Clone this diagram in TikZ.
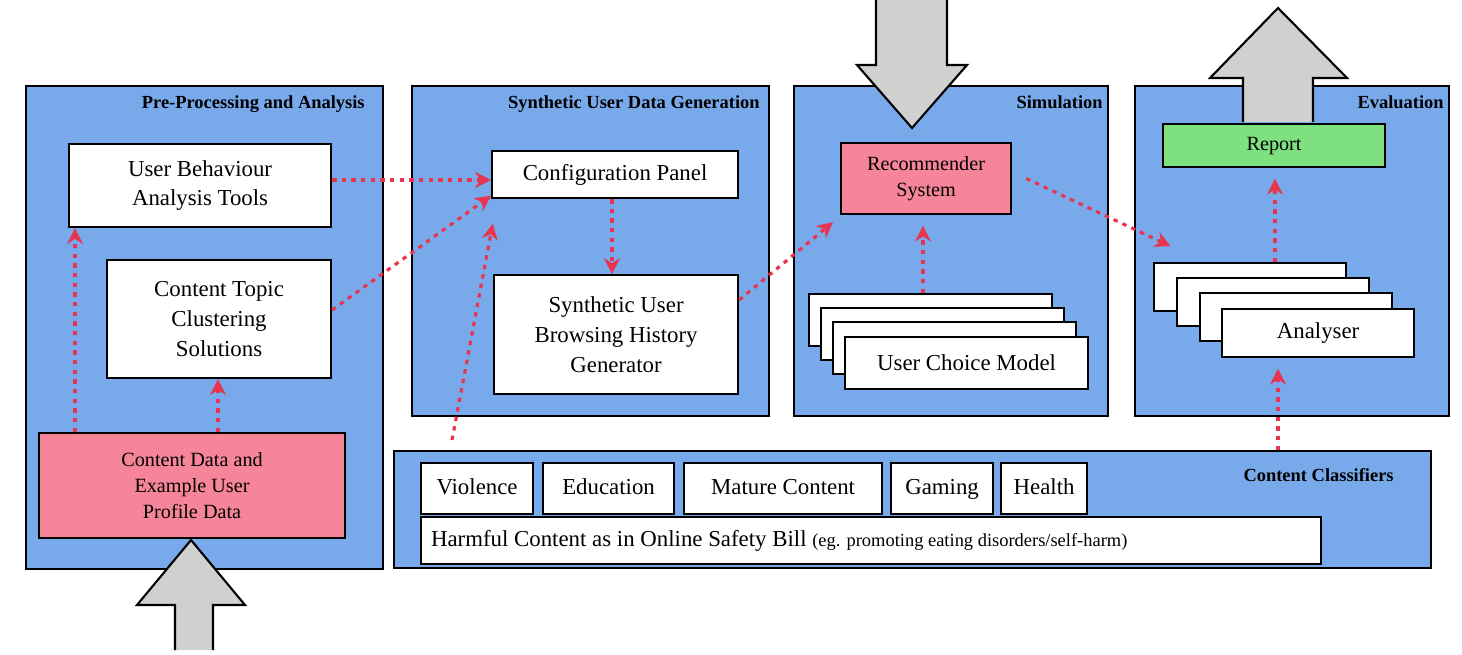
\documentclass[tikz,border=0pt]{standalone}
\usepackage{fontspec}
\setmainfont{Liberation Serif}
\usetikzlibrary{arrows.meta,shapes.arrows}
\definecolor{panelblue}{HTML}{78A9EA}
\definecolor{boxpink}{HTML}{F7859A}
\definecolor{boxgreen}{HTML}{7EE07E}
\definecolor{flowred}{HTML}{E8344E}
\definecolor{bigarrow}{HTML}{D0D0D0}
\tikzset{
  panel/.style={draw, line width=1.2pt, fill=panelblue, anchor=north west, inner sep=0pt},
  ptitle/.style={anchor=north east, font=\fontsize{10.5}{12}\selectfont\bfseries, inner sep=0pt},
  box/.style={draw, line width=1.2pt, fill=white, anchor=north west, inner sep=0pt, align=center, font=\fontsize{13}{17}\selectfont},
  flow/.style={flowred, line width=1.8pt, dash pattern=on 2.5pt off 3pt, -{Stealth[length=9pt,width=9pt]}},
  big/.style={draw, line width=1.2pt, fill=bigarrow}
}
\begin{document}
\begin{tikzpicture}[x=0.02cm, y=-0.02cm]
\useasboundingbox (0,0) rectangle (1462,655);
% panels
\node[panel, minimum width=357*0.02cm, minimum height=483*0.02cm] (pre) at (25,85) {};
\node[panel, minimum width=357*0.02cm, minimum height=330*0.02cm] (gen) at (411,85) {};
\node[panel, minimum width=314*0.02cm, minimum height=330*0.02cm] (sim) at (793,85) {};
\node[panel, minimum width=314*0.02cm, minimum height=330*0.02cm] (eval) at (1134,85) {};
\node[panel, minimum width=1037*0.02cm, minimum height=117*0.02cm] (cls) at (393,450) {};
\node[ptitle] at (365,95) {Pre-Processing and Analysis};
\node[ptitle] at (760,95) {Synthetic User Data Generation};
\node[ptitle] at (1103,95) {Simulation};
\node[ptitle] at (1444,95) {Evaluation};
\node[ptitle] at (1394,468) {Content Classifiers};
% boxes
\node[box, minimum width=262*0.02cm, minimum height=83*0.02cm] (ubat) at (68,143) {User Behaviour\\Analysis Tools};
\node[box, minimum width=224*0.02cm, minimum height=118*0.02cm] (ctcs) at (106,259) {Content Topic\\Clustering\\Solutions};
\node[box, fill=boxpink, minimum width=306*0.02cm, minimum height=105*0.02cm, font=\fontsize{11.5}{15}\selectfont] (data) at (38,432) {Content Data and\\Example User\\Profile Data};
\node[box, minimum width=246*0.02cm, minimum height=47*0.02cm] (conf) at (491,150) {Configuration Panel};
\node[box, minimum width=244*0.02cm, minimum height=119*0.02cm] (hist) at (493,274) {Synthetic User\\Browsing History\\Generator};
\node[box, fill=boxpink, minimum width=170*0.02cm, minimum height=71*0.02cm, font=\fontsize{11.5}{15}\selectfont] (rec) at (840,142) {Recommender\\System};
\foreach \i/\x/\y in {1/808/293, 2/820/307, 3/832/321}
  \node[box, minimum width=243*0.02cm, minimum height=52*0.02cm] (ucm\i) at (\x,\y) {};
\node[box, minimum width=243*0.02cm, minimum height=52*0.02cm] (ucm) at (844,336) {User Choice Model};
\node[box, fill=boxgreen, minimum width=222*0.02cm, minimum height=43*0.02cm, font=\fontsize{11.5}{15}\selectfont] (rep) at (1162,123) {Report};
\foreach \i/\x/\y in {1/1153/262, 2/1176/277, 3/1199/292}
  \node[box, minimum width=192*0.02cm, minimum height=48*0.02cm] (an\i) at (\x,\y) {};
\node[box, minimum width=192*0.02cm, minimum height=48*0.02cm] (an) at (1221,308) {Analyser};
% classifiers
\foreach \n/\x/\w/\t in {vio/420/112/Violence, edu/542/131/Education, mat/683/198/Mature Content, gam/890/102/Gaming, hea/1000/86/Health}
  \node[box, minimum width=\w*0.02cm, minimum height=51*0.02cm] (\n) at (\x,462) {\strut\t};
\node[box, minimum width=900*0.02cm, minimum height=47*0.02cm, align=flush left, text width=880*0.02cm, inner xsep=10*0.02cm] (harm) at (420,516) {Harmful Content as in Online Safety Bill {\fontsize{10.5}{12}\selectfont(eg. promoting eating disorders/self-harm)}};
% big arrows
\draw[big] (175,650) -- (175,605) -- (137,605) -- (191,540) -- (245,605) -- (213,605) -- (213,650);
\draw[big] (876,0) -- (876,65) -- (857,65) -- (912,128) -- (967,65) -- (947,65) -- (947,0);
\draw[big] (1243,122) -- (1243,78) -- (1210,78) -- (1278,8) -- (1347,78) -- (1313,78) -- (1313,122);
% flows
\coordinate (c1) at (452,440);
\draw[flow] (data.north -| 75,0) -- (ubat.south -| 75,0);
\draw[flow] (data.north -| 218,0) -- (ctcs.south -| 218,0);
\draw[flow] (ubat.east |- 0,180) -- (conf.west |- 0,180);
\draw[flow] (ctcs.east |- 0,310) -- ([yshift=-12pt]conf.west);
\draw[flow] (c1) -- ([xshift=1pt,yshift=-14pt]conf.south west);
\draw[flow] (conf.south -| 612,0) -- (hist.north -| 612,0);
\draw[flow] (hist.east |- 0,300) -- ([xshift=-4pt,yshift=-4pt]rec.south west);
\draw[flow] (ucm1.north -| 923,0) -- ([yshift=-6pt]rec.south -| 923,0);
\draw[flow] ([xshift=8pt]rec.east) -- ([xshift=10pt,yshift=9pt]an1.north west);
\draw[flow] (an1.north -| 1275,0) -- ([yshift=-6pt]rep.south -| 1275,0);
\draw[flow] (cls.north -| 1278,0) -- ([yshift=-6pt]an.south -| 1278,0);
\end{tikzpicture}
\end{document}
